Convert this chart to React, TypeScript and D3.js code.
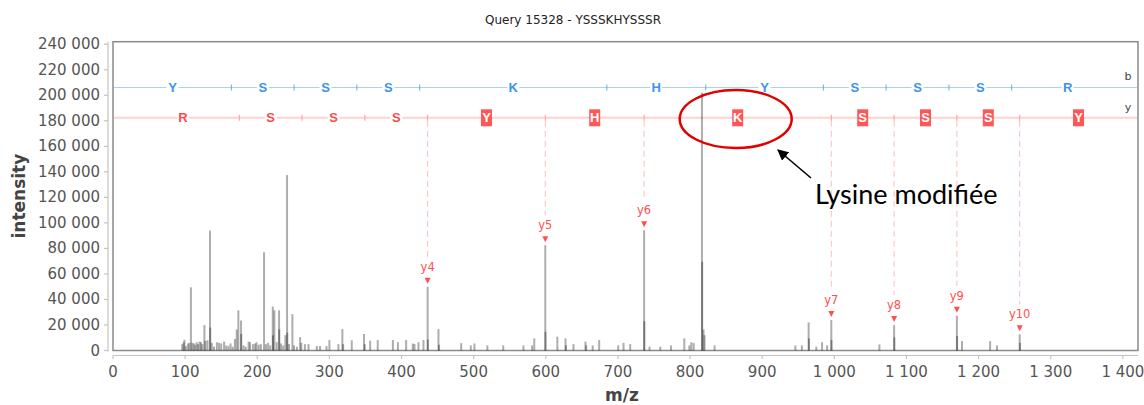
import React from "react";
import * as d3 from "d3";

const title = "Query 15328 - YSSSKHYSSSR";
const sequence = ["Y", "S", "S", "S", "K", "H", "Y", "S", "S", "S", "R"];
// b ladder boundaries (b0 .. b11), m/z
const bLadder = [1.0, 164.1, 251.1, 338.1, 425.2, 684.7, 821.7, 984.8, 1071.8, 1158.9, 1245.9, 1401.2];
// y ladder boundaries (y0 .. y11), m/z
const yLadder = [19.0, 175.1, 262.1, 349.2, 436.2, 599.3, 736.3, 995.8, 1082.9, 1169.9, 1257.0, 1420.1];
// matched y ions
const yIonLabels = ["y4", "y5", "y6", "y7", "y8", "y9", "y10"];
const yIonIndex = [4, 5, 6, 7, 8, 9, 10];

const xTicks = [0, 100, 200, 300, 400, 500, 600, 700, 800, 900, 1000, 1100, 1200, 1300, 1400];
const yTicks = [0, 20000, 40000, 60000, 80000, 100000, 120000, 140000, 160000, 180000, 200000, 220000, 240000];

// [m/z, intensity]
const peaks: [number, number][] = [
  [96, 5000], [98, 6500], [99, 8500], [101, 3500], [104, 5500], [106, 6000], [108, 49500], [110, 6000],
  [112, 5500], [114, 4500], [116, 6500], [118, 5000], [120, 7000], [122, 6500], [124, 5000], [126.7, 20000],
  [128, 7500], [131, 8000], [134.5, 94000], [134.8, 18000], [137, 6000], [140, 3000], [144, 6500], [147, 6000],
  [150, 5500], [154, 6900], [157, 4000], [160, 3500], [163, 5500], [166, 3000], [169, 9000], [171.5, 16500],
  [173.8, 31500], [177.5, 23500], [177.8, 13000], [181, 4000], [184, 3000], [188, 7000], [190, 6500],
  [194, 5000], [197, 5500], [199, 6500], [202, 4500], [205, 5000], [209.4, 77000], [212, 5000], [215, 6000],
  [218, 4000], [221.5, 34500], [221.8, 12000], [223.7, 31500], [227, 6500], [230.2, 31500], [230.5, 16500],
  [233, 5500], [236, 4000], [239, 12000], [241.3, 137500], [241.6, 14000], [244, 5000], [248.7, 28500],
  [251, 4000], [255, 3000], [259.4, 10500], [261, 6000], [266, 5000], [271, 5000], [282.5, 3500], [287, 3500],
  [296, 3500], [300, 8200], [312.5, 5000], [318, 16800], [319, 5000], [331, 8000], [348, 12900], [349, 5000],
  [356.5, 7700], [367, 8200], [388, 8200], [395, 6500], [406.4, 8200], [415.6, 5500], [418, 5000],
  [423.5, 6500], [430.4, 8200], [436.2, 49900], [436.5, 8600], [451.2, 16800], [452, 4500], [482.7, 5800],
  [496, 4000], [501, 5500], [519, 4000], [541, 4000], [569, 4000], [581, 4000], [584, 9500], [599.3, 82500],
  [599.6, 14700], [616, 10800], [627.3, 9500], [628, 4000], [638.4, 5000], [655, 7000], [656, 4000], [665, 4000],
  [674, 8200], [700.4, 4000], [707.8, 6000], [717, 5000], [736.3, 94300], [736.6, 23000], [743.8, 3000],
  [758.7, 3000], [773.5, 4000], [792, 9500], [799, 4000], [801.7, 6500], [805, 6000], [816.5, 202000],
  [816.8, 69500], [818.7, 16500], [820, 12000], [834, 4000], [946, 4000], [955, 4000], [964.4, 22000],
  [964.8, 9500], [975, 3000], [983, 6500], [990, 4000], [995.8, 23850], [996.1, 8200], [1062.5, 4800],
  [1082.9, 19950], [1083.2, 10300], [1169.9, 27200], [1170.2, 11300], [1177, 7400], [1216, 7400],
  [1225.5, 4000], [1257, 12650], [1257.3, 6000],
];

const annotationText = "Lysine modifiée";

const W = 1144;
const H = 405;
const frame = { left: 113, right: 1138, top: 41.7, bottom: 350.5 };
const rowB = 87.5;
const rowY = 117.8;

export default function App() {
  const x = d3.scaleLinear().domain([0, 1421]).range([frame.left, frame.right]);
  const y = d3.scaleLinear().domain([0, 242000]).range([frame.bottom, frame.top]);
  const fmt = (v: number) => d3.format(",")(v).replace(/,/g, " ");

  const peakTop = (mz: number) => {
    let best = 0;
    peaks.forEach(([m, i]) => {
      if (Math.abs(m - mz) < 1 && i > best) best = i;
    });
    return best;
  };

  const blue = "#3b93f2";
  const red = "#ff4a4a";
  const ySeq = [...sequence].reverse();
  const matched = new Set(yIonIndex);

  // ellipse around K (between y6 and y7)
  const kMid = (x(yLadder[6]) + x(yLadder[7])) / 2 - 2;

  return (
    <svg width={W} height={H} style={{ position: "absolute", left: 0, top: 0, background: "#fff" }}>
      <rect x={0} y={0} width={W} height={H} fill="#fff" />
      <text x={573} y={24} textAnchor="middle" fontFamily="DejaVu Sans" fontSize={12} fill="#222">
        {title}
      </text>

      {/* y axis */}
      <line x1={108} x2={108} y1={frame.top} y2={frame.bottom + 1} stroke="#c4c4c4" strokeWidth={1.2} />
      {yTicks.map((t) => (
        <g key={"yt" + t}>
          <line x1={104} x2={108} y1={y(t)} y2={y(t)} stroke="#c4c4c4" strokeWidth={1.2} />
          <text x={100} y={y(t) + 5} textAnchor="end" fontFamily="DejaVu Sans" fontSize={15} fill="#555">
            {fmt(t)}
          </text>
        </g>
      ))}
      <text
        transform={`translate(25,${(frame.top + frame.bottom) / 2}) rotate(-90)`}
        textAnchor="middle"
        fontFamily="DejaVu Sans"
        fontWeight="bold"
        fontSize={17}
        fill="#444"
      >
        intensity
      </text>

      {/* x axis */}
      <line x1={frame.left} x2={frame.right} y1={355.5} y2={355.5} stroke="#c4c4c4" strokeWidth={1.2} />
      {xTicks.map((t) => (
        <g key={"xt" + t}>
          <line x1={x(t)} x2={x(t)} y1={355.5} y2={359} stroke="#c4c4c4" strokeWidth={1.2} />
          <text x={x(t)} y={377} textAnchor="middle" fontFamily="DejaVu Sans" fontSize={15} fill="#555">
            {fmt(t)}
          </text>
        </g>
      ))}
      <text x={622} y={401} textAnchor="middle" fontFamily="DejaVu Sans" fontWeight="bold" fontSize={17} fill="#444">
        m/z
      </text>

      {/* frame */}
      <rect
        x={frame.left}
        y={frame.top}
        width={frame.right - frame.left}
        height={frame.bottom - frame.top}
        fill="none"
        stroke="#8a8a8a"
        strokeWidth={1.5}
      />

      {/* dashed guides for matched y ions */}
      {yIonIndex.map((idx) => {
        const mz = yLadder[idx];
        const top = y(peakTop(mz));
        return (
          <line
            key={"dg" + idx}
            x1={x(mz)}
            x2={x(mz)}
            y1={rowY + 3}
            y2={top - 30}
            stroke="#ffbcbc"
            strokeWidth={1}
            strokeDasharray="6,4"
          />
        );
      })}

      {/* ladder lines */}
      <line x1={frame.left + 1} x2={frame.right - 1} y1={rowB} y2={rowB} stroke="#a9d0f7" strokeWidth={1} />
      <line x1={frame.left + 1} x2={frame.right - 1} y1={rowY} y2={rowY} stroke="#ffd2d2" strokeWidth={2} />
      {bLadder.slice(1, -1).map((m, i) => (
        <line key={"bt" + i} x1={x(m)} x2={x(m)} y1={rowB - 3} y2={rowB + 3} stroke="#6aa8ee" strokeWidth={1} />
      ))}
      {yLadder.slice(1, -1).map((m, i) => (
        <line key={"ytk" + i} x1={x(m)} x2={x(m)} y1={rowY - 3} y2={rowY + 3} stroke="#ff9a9a" strokeWidth={1} />
      ))}

      {/* peaks */}
      {peaks.map(([m, inten], i) => (
        <rect
          key={"p" + i}
          x={x(m) - 1}
          y={y(inten)}
          width={2}
          height={y(0) - y(inten)}
          fill="#000"
          fillOpacity={0.32}
        />
      ))}

      {/* b letters */}
      {sequence.map((aa, i) => {
        const cx = (x(bLadder[i]) + x(bLadder[i + 1])) / 2;
        return (
          <g key={"bl" + i}>
            <rect x={cx - 6} y={rowB - 7} width={12} height={14} fill="#fff" />
            <text x={cx} y={rowB + 4.5} textAnchor="middle" fontFamily="Liberation Sans" fontWeight="bold" fontSize={13} fill={blue}>
              {aa}
            </text>
          </g>
        );
      })}

      {/* y letters */}
      {ySeq.map((aa, i) => {
        const cx = (x(yLadder[i]) + x(yLadder[i + 1])) / 2;
        const boxed = matched.has(i);
        return (
          <g key={"yl" + i}>
            {boxed ? (
              <rect x={cx - 5.5} y={rowY - 8.5} width={11} height={17} fill="#ff5757" />
            ) : (
              <rect x={cx - 6} y={rowY - 7} width={12} height={14} fill="#fff" />
            )}
            <text x={cx} y={rowY + 4.5} textAnchor="middle" fontFamily="Liberation Sans" fontWeight="bold" fontSize={13} fill={boxed ? "#fff" : red}>
              {aa}
            </text>
          </g>
        );
      })}

      <text x={1128} y={80} textAnchor="middle" fontFamily="DejaVu Sans" fontSize={11} fill="#444">b</text>
      <text x={1128} y={111} textAnchor="middle" fontFamily="DejaVu Sans" fontSize={11} fill="#444">y</text>

      {/* y ion labels */}
      {yIonIndex.map((idx, k) => {
        const mz = yLadder[idx];
        const cx = x(mz);
        const top = y(peakTop(mz));
        return (
          <g key={"yi" + idx}>
            <path d={`M${cx - 3},${top - 9} L${cx + 3},${top - 9} L${cx},${top - 3} Z`} fill="#ff5050" />
            <text x={cx} y={top - 16} textAnchor="middle" fontFamily="DejaVu Sans" fontSize={11.5} fill="#ff5050">
              {yIonLabels[k]}
            </text>
          </g>
        );
      })}

      {/* annotation */}
      <ellipse cx={kMid} cy={119} rx={56} ry={29} fill="none" stroke="#e00000" strokeWidth={2.5} />
      <defs>
        <marker id="ah" viewBox="0 0 10 10" refX={9} refY={5} markerWidth={7} markerHeight={7} orient="auto">
          <path d="M0,0 L10,5 L0,10 Z" fill="#000" />
        </marker>
      </defs>
      <line x1={811} y1={178} x2={778} y2={150} stroke="#000" strokeWidth={1.6} markerEnd="url(#ah)" />
      <text x={815} y={204} fontFamily="Lato" fontSize={27} fill="#000">
        {annotationText}
      </text>
    </svg>
  );
}
